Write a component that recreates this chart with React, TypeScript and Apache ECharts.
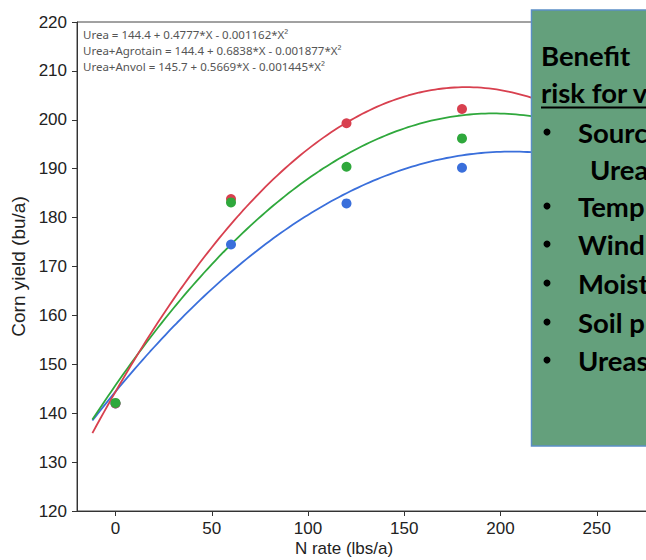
import React, { useEffect, useRef } from "react";
import * as echarts from "echarts";

// ---- data ----
const xTickValues = [0, 50, 100, 150, 200, 250];
const nRates = [0, 60, 120, 180];
const ureaYield = [142.0, 174.5, 182.9, 190.2];
const agrotainYield = [142.0, 183.8, 199.3, 202.2];
const anvolYield = [142.1, 183.1, 190.4, 196.2];

// fitted quadratic trend lines, coefficients printed on the chart (a + b*X + c*X^2)
const ureaCoef = [144.4, 0.4777, -0.001162];
const agrotainCoef = [144.4, 0.6838, -0.001877];
const anvolCoef = [145.7, 0.5669, -0.001445];
const trendRange = [-12, 290];

const equationLines = [
  "Urea = 144.4 + 0.4777*X - 0.001162*X²",
  "Urea+Agrotain = 144.4 + 0.6838*X - 0.001877*X²",
  "Urea+Anvol = 145.7 + 0.5669*X - 0.001445*X²",
];

// text box (visible part, clipped by the picture's right edge in the reference)
const boxLines = [
  { bullet: false, text: "Benefit", x: 541, base: 66, underline: false },
  { bullet: false, text: "risk for v", x: 541, base: 103, underline: true },
  { bullet: true, text: "Sourc", x: 578, base: 143, underline: false },
  { bullet: false, text: "Urea", x: 590, base: 180, underline: false },
  { bullet: true, text: "Temp", x: 578, base: 217, underline: false },
  { bullet: true, text: "Wind", x: 578, base: 255, underline: false },
  { bullet: true, text: "Moist", x: 578, base: 294, underline: false },
  { bullet: true, text: "Soil p", x: 578, base: 333, underline: false },
  { bullet: true, text: "Ureas", x: 578, base: 371, underline: false },
];

const RED = "#d8404f";
const GREEN = "#2fa83c";
const BLUE = "#3a6fdb";

function trend(coef: number[]): number[][] {
  const pts: number[][] = [];
  for (let x = trendRange[0]; x <= trendRange[1]; x += 2) {
    pts.push([x, coef[0] + coef[1] * x + coef[2] * x * x]);
  }
  return pts;
}

export default function App() {
  const ref = useRef<HTMLDivElement>(null);
  useEffect(() => {
    if (!ref.current) return;
    const chart = echarts.init(ref.current, null, { renderer: "svg" });
    const boxFont = "bold 27.5px Lato";
    const graphics: any[] = [];
    equationLines.forEach((t, i) => {
      graphics.push({
        type: "text",
        x: 83,
        y: 34 + i * 16,
        z: 50,
        style: {
          text: t,
          font: "11.5px 'Noto Sans'",
          fill: "#555",
          align: "left",
          verticalAlign: "middle",
          textAlign: "left",
          textVerticalAlign: "middle",
        },
      });
    });
    graphics.push({
      type: "rect",
      z: 100,
      shape: { x: 531.5, y: 10, width: 200, height: 436 },
      style: { fill: "#64a07c", stroke: "#5b8ec6", lineWidth: 1.5 },
    });
    boxLines.forEach((l) => {
      if (l.bullet) {
        graphics.push({
          type: "circle",
          z: 101,
          shape: { cx: 547, cy: l.base - 11, r: 3.5 },
          style: { fill: "#000" },
        });
      }
      graphics.push({
        type: "text",
        z: 101,
        x: l.x,
        y: l.base - 10.5,
        style: {
          text: l.text,
          font: boxFont,
          fill: "#000",
          align: "left",
          verticalAlign: "middle",
          textAlign: "left",
          textVerticalAlign: "middle",
        },
      });
      if (l.underline) {
        graphics.push({
          type: "line",
          z: 101,
          shape: { x1: l.x, y1: l.base + 4.5, x2: 720, y2: l.base + 4.5 },
          style: { stroke: "#000", lineWidth: 2 },
        });
      }
    });
    graphics.push({
      type: "text",
      x: 344,
      y: 548,
      z: 50,
      style: {
        text: "N rate (lbs/a)",
        font: "17px 'Liberation Sans'",
        fill: "#222",
        align: "center",
        verticalAlign: "middle",
        textAlign: "center",
        textVerticalAlign: "middle",
      },
    });

    const lineSeries = (name: string, coef: number[], color: string) => ({
      name,
      type: "line",
      data: trend(coef),
      showSymbol: false,
      symbol: "none",
      smooth: false,
      lineStyle: { color, width: 1.8 },
      itemStyle: { color },
      z: 2,
    });
    const scatterSeries = (name: string, ys: number[], color: string) => ({
      name,
      type: "scatter",
      data: nRates.map((x, i) => [x, ys[i]]),
      symbolSize: 10,
      itemStyle: { color, opacity: 1 },
      z: 3,
    });

    chart.setOption({
      animation: false,
      backgroundColor: "#fff",
      grid: {
        left: 77,
        top: 22,
        width: 616,
        height: 489,
        show: true,
        borderColor: "#444",
        borderWidth: 1,
        backgroundColor: "transparent",
      },
      xAxis: {
        type: "value",
        min: -20,
        max: 300,
        splitLine: { show: false },
        axisLine: { show: true, onZero: false, lineStyle: { color: "#333", width: 1 } },
        axisTick: { show: true, length: 5, customValues: xTickValues, lineStyle: { color: "#333" } },
        axisLabel: {
          customValues: xTickValues,
          fontSize: 17,
          fontFamily: "Liberation Sans",
          color: "#222",
          margin: 9,
        },
      },
      yAxis: {
        type: "value",
        min: 120,
        max: 220,
        interval: 10,
        name: "Corn yield (bu/a)",
        nameLocation: "middle",
        nameGap: 47,
        nameTextStyle: { fontSize: 19, fontFamily: "Liberation Sans", color: "#222" },
        splitLine: { show: false },
        axisLine: { show: true, onZero: false, lineStyle: { color: "#333", width: 1 } },
        axisTick: { show: true, length: 5, lineStyle: { color: "#333" } },
        axisLabel: { fontSize: 17, fontFamily: "Liberation Sans", color: "#222", margin: 10 },
      },
      series: [
        lineSeries("Urea trend", ureaCoef, BLUE),
        lineSeries("Urea+Anvol trend", anvolCoef, GREEN),
        lineSeries("Urea+Agrotain trend", agrotainCoef, RED),
        scatterSeries("Urea", ureaYield, BLUE),
        scatterSeries("Urea+Agrotain", agrotainYield, RED),
        scatterSeries("Urea+Anvol", anvolYield, GREEN),
      ],
      graphic: graphics,
    });
    return () => chart.dispose();
  }, []);
  return (
    <div
      style={{
        position: "fixed",
        left: 0,
        top: 0,
        width: 646,
        height: 560,
        overflow: "hidden",
        background: "#fff",
      }}
    >
      <div ref={ref} style={{ width: 720, height: 560 }} />
    </div>
  );
}
